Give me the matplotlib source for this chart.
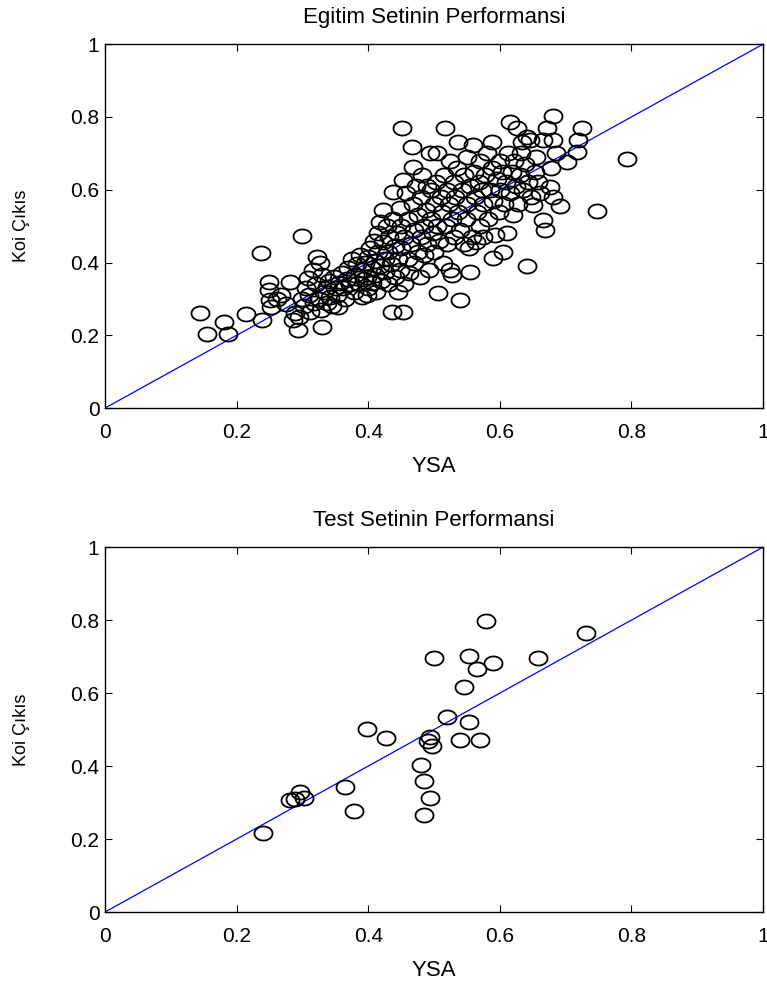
import numpy as np
from matplotlib import pyplot as plt
from matplotlib.path import Path
from matplotlib.ticker import FormatStrFormatter

train_x = [
    0.144, 0.155, 0.181, 0.187, 0.214, 0.238, 0.237, 0.249, 0.249, 0.250, 0.252,
    0.262, 0.268, 0.275, 0.281, 0.286, 0.293, 0.288, 0.295, 0.299, 0.300, 0.303, 0.305,
    0.309, 0.310, 0.312, 0.316, 0.318, 0.320, 0.322, 0.325, 0.327, 0.328, 0.330, 0.330,
    0.333, 0.337, 0.338, 0.340, 0.342, 0.345, 0.348, 0.350, 0.354, 0.352, 0.356,
    0.360, 0.362, 0.365, 0.368, 0.370, 0.372, 0.375, 0.378, 0.380, 0.383, 0.385, 0.388,
    0.390, 0.391, 0.393, 0.395, 0.398, 0.398, 0.400, 0.400, 0.402, 0.405, 0.405, 0.408,
    0.410, 0.410, 0.412, 0.415, 0.415, 0.418, 0.418, 0.420, 0.422, 0.422, 0.425, 0.425,
    0.428, 0.430, 0.430, 0.432, 0.435, 0.436, 0.438, 0.438, 0.440, 0.440, 0.443, 0.445,
    0.445, 0.448, 0.448, 0.450, 0.450, 0.453, 0.453, 0.451,
    0.455, 0.455, 0.458, 0.460, 0.460, 0.462, 0.465, 0.467, 0.468, 0.468, 0.470, 0.470,
    0.473, 0.475, 0.475, 0.478, 0.480, 0.480, 0.482, 0.485, 0.485, 0.488, 0.490, 0.490,
    0.492, 0.494, 0.495, 0.495, 0.498, 0.500, 0.500, 0.503, 0.504, 0.505, 0.506, 0.508,
    0.510, 0.512, 0.514, 0.515, 0.517, 0.518, 0.520, 0.520, 0.522, 0.524, 0.525, 0.527,
    0.528, 0.530, 0.530, 0.532, 0.535, 0.537, 0.537, 0.540, 0.540, 0.542, 0.545, 0.545,
    0.548, 0.550, 0.550,
    0.555, 0.555, 0.558, 0.559, 0.560, 0.562, 0.565, 0.568, 0.570, 0.570, 0.573, 0.575,
    0.578, 0.580, 0.582, 0.585, 0.588, 0.588, 0.590, 0.590, 0.593, 0.595, 0.598, 0.600,
    0.600, 0.603, 0.605, 0.607, 0.610, 0.611, 0.613, 0.615, 0.616, 0.618, 0.620, 0.622,
    0.625, 0.626, 0.628, 0.630, 0.632, 0.634, 0.635, 0.638, 0.641, 0.641, 0.643, 0.646,
    0.648, 0.553, 0.563, 0.575,
    0.650, 0.653, 0.655, 0.658, 0.661, 0.666, 0.666, 0.669, 0.672, 0.676, 0.678, 0.681,
    0.681, 0.681, 0.686, 0.692, 0.702, 0.717, 0.719, 0.725, 0.748, 0.793,
]
train_y = [
    0.261, 0.203, 0.236, 0.203, 0.258, 0.242, 0.426, 0.346, 0.324, 0.297, 0.277,
    0.300, 0.310, 0.285, 0.346, 0.242, 0.214, 0.262, 0.250, 0.473, 0.300, 0.280, 0.330,
    0.357, 0.310, 0.265, 0.379, 0.290, 0.340, 0.415, 0.300, 0.398, 0.270, 0.365, 0.222,
    0.320, 0.332, 0.290, 0.350, 0.305, 0.280, 0.360, 0.330, 0.277, 0.310, 0.345,
    0.370, 0.330, 0.300, 0.355, 0.385, 0.340, 0.410, 0.320, 0.365, 0.395, 0.345, 0.420,
    0.380, 0.305, 0.355, 0.400, 0.360, 0.310, 0.415, 0.330, 0.440, 0.385, 0.345, 0.460,
    0.405, 0.365, 0.320, 0.480, 0.430, 0.511, 0.390, 0.350, 0.544, 0.455, 0.410, 0.375,
    0.500, 0.430, 0.340, 0.470, 0.395, 0.264, 0.593, 0.520, 0.360, 0.445, 0.480, 0.410,
    0.320, 0.550, 0.380, 0.500, 0.440, 0.626, 0.264, 0.769,
    0.470, 0.340, 0.590, 0.410, 0.520, 0.370, 0.450, 0.717, 0.662, 0.560, 0.490, 0.400,
    0.610, 0.430, 0.530, 0.360, 0.470, 0.580, 0.640, 0.500, 0.420, 0.545, 0.610, 0.450,
    0.380, 0.700, 0.520, 0.600, 0.480, 0.560, 0.430, 0.620, 0.700, 0.500, 0.316, 0.460,
    0.580, 0.540, 0.398, 0.640, 0.769, 0.500, 0.450, 0.600, 0.560, 0.379, 0.680, 0.365,
    0.520, 0.470, 0.620, 0.580, 0.660, 0.731, 0.540, 0.297, 0.490, 0.600, 0.640, 0.450,
    0.520, 0.560, 0.690,
    0.374, 0.610, 0.470, 0.723, 0.650, 0.580, 0.540, 0.620, 0.680, 0.500, 0.600, 0.560,
    0.640, 0.700, 0.520, 0.600, 0.731, 0.660, 0.412, 0.570, 0.475, 0.630, 0.540, 0.680,
    0.600, 0.650, 0.429, 0.560, 0.620, 0.481, 0.700, 0.590, 0.786, 0.650, 0.530, 0.680,
    0.610, 0.769, 0.560, 0.640, 0.700, 0.731, 0.600, 0.670, 0.745, 0.390, 0.620, 0.736,
    0.580, 0.440, 0.455, 0.470,
    0.558, 0.650, 0.690, 0.620, 0.591, 0.516, 0.736, 0.489, 0.769, 0.607, 0.660, 0.580,
    0.736, 0.802, 0.700, 0.555, 0.676, 0.703, 0.736, 0.769, 0.541, 0.684,
]

# test set
test_x = [0.240, 0.281, 0.288, 0.296, 0.303, 0.365, 0.378, 0.398, 0.427, 0.480,
          0.484, 0.484, 0.494, 0.491, 0.494, 0.497, 0.500, 0.520, 0.540, 0.546,
          0.553, 0.553, 0.566, 0.570, 0.579, 0.590, 0.658, 0.731]
test_y = [0.216, 0.307, 0.310, 0.330, 0.312, 0.343, 0.277, 0.501, 0.477, 0.403,
          0.359, 0.266, 0.312, 0.470, 0.479, 0.455, 0.696, 0.534, 0.471, 0.616,
          0.701, 0.520, 0.666, 0.471, 0.797, 0.682, 0.696, 0.764]

titles = ['Egitim Setinin Performansi', 'Test Setinin Performansi']
ticks = [0, 0.2, 0.4, 0.6, 0.8, 1]

plt.rcParams['font.family'] = ['Liberation Sans', 'DejaVu Sans']

# circles in the source are a little wider than tall
t = np.linspace(0, 2 * np.pi, 41)
ring = Path(np.column_stack([np.cos(t), 0.78 * np.sin(t)]), closed=True)


def panel(ax, x, y, title):
    ax.plot([0, 1], [0, 1], color='b', lw=0.9)
    ax.plot(x, y, linestyle='none', marker=ring, markersize=13,
            markerfacecolor='none', markeredgecolor='k', markeredgewidth=1.3)
    ax.set_xlim(0, 1)
    ax.set_ylim(0, 1)
    ax.set_xticks(ticks)
    ax.set_yticks(ticks)
    ax.xaxis.set_major_formatter(FormatStrFormatter('%g'))
    ax.yaxis.set_major_formatter(FormatStrFormatter('%g'))
    ax.tick_params(direction='in', top=True, right=True, length=5,
                   labelsize=15)
    ax.tick_params(axis='x', pad=11)
    ax.tick_params(axis='y', pad=4)
    for s in ax.spines.values():
        s.set_linewidth(1.0)
    ax.set_title(title, fontsize=16, pad=15)
    ax.set_xlabel('YSA', fontsize=16, labelpad=10)
    ax.set_ylabel('Koi Çıkıs', fontsize=13, labelpad=29)


fig = plt.figure(figsize=(7.67, 9.81), dpi=100)
ax1 = fig.add_axes([0.1369, 0.584, 0.858, 0.371])
ax2 = fig.add_axes([0.1369, 0.0703, 0.858, 0.372])
panel(ax1, train_x, train_y, titles[0])
panel(ax2, test_x, test_y, titles[1])

fig.savefig('out.png', dpi=100)
